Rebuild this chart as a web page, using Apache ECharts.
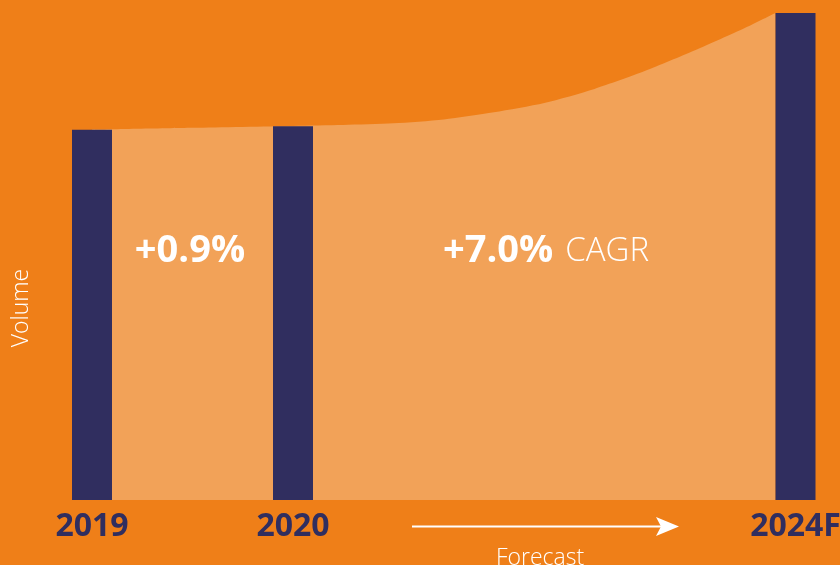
<!DOCTYPE html>
<html>
<head>
<meta charset="utf-8">
<script src="https://cdn.jsdelivr.net/npm/echarts@6/dist/echarts.min.js"></script>
<style>
html,body{margin:0;padding:0;background:#EF7F18;}
#c{width:840px;height:565px;}
</style>
</head>
<body>
<div id="c"></div>
<script>
// category slots along the x axis (blank slots are spacing in the original layout)
const categories = ['2019', '', '2020', '', '', '', '', '2024F'];
// bar values per slot (volume index, 2019 = 100)
const barValues = [100, null, 100.9, null, null, null, null, 131.5];
// growth curve (slot position, volume index)
const curveSlots = [0, 1, 2, 2.5, 3, 3.5, 4, 4.5, 5, 5.5, 6, 6.5, 6.8];
const curveValues = [100, 100.5, 101.0, 101.25, 101.7, 102.75, 104.7, 107.2, 111.0, 115.8, 121.4, 127.5, 131.5];
const growthLabel = '+0.9%';
const cagrLabel = '+7.0%';

const NAVY = '#302E5F';
const BG = '#EF7F18';
const LIGHT = '#F2A258';
const FONT = '"Open Sans", "DejaVu Sans", sans-serif';

const chart = echarts.init(document.getElementById('c'), null, {renderer: 'canvas'});
chart.setOption({
  backgroundColor: BG,
  animation: false,
  grid: {left: 92, right: 44.5, top: 0, bottom: 65, containLabel: false, outerBoundsMode: 'none'},
  xAxis: [
    {
      type: 'category', data: categories, boundaryGap: false,
      splitLine: {show: false}, axisLine: {show: false}, axisTick: {show: false},
      axisLabel: {show: true, interval: 0, margin: 11, color: NAVY, fontFamily: FONT, fontWeight: 'bold', fontSize: 32}
    },
    {
      type: 'value', min: 0, max: categories.length - 1, show: false, splitLine: {show: false}
    }
  ],
  yAxis: {type: 'value', min: 0, max: 135, show: false, splitLine: {show: false}},
  series: [
    {
      type: 'line', z: 1, xAxisIndex: 1,
      data: curveSlots.map((x, i) => [x, curveValues[i]]),
      smooth: 0.25, symbol: 'none',
      lineStyle: {width: 0, color: LIGHT},
      areaStyle: {color: LIGHT, opacity: 1}
    },
    {
      type: 'bar', z: 3, xAxisIndex: 0, barWidth: 40,
      data: barValues.map(v => v == null ? '-' : v),
      itemStyle: {color: NAVY}
    }
  ],
  graphic: [
    {type: 'text', z: 100, style: {text: growthLabel, x: 190, y: 251, align: 'center', verticalAlign: 'middle', fill: '#fff', fontFamily: FONT, fontWeight: 'bold', fontSize: 38}},
    {type: 'text', z: 100, style: {
      text: '{b|' + cagrLabel + '}{l|CAGR}', x: 546, y: 251, align: 'center', verticalAlign: 'middle',
      rich: {
        b: {fill: '#fff', fontFamily: FONT, fontWeight: 'bold', fontSize: 38},
        l: {fill: '#fff', fontFamily: FONT, fontWeight: 300, fontSize: 33, padding: [2, 0, 0, 12]}
      }
    }},
    {type: 'text', z: 100, x: 21, y: 308, rotation: Math.PI / 2, style: {text: 'Volume', x: 0, y: 0, align: 'center', verticalAlign: 'middle', fill: '#fff', fontFamily: FONT, fontWeight: 300, fontSize: 23}},
    {type: 'text', z: 100, style: {text: 'Forecast', x: 540, y: 558, align: 'center', verticalAlign: 'middle', fill: '#fff', fontFamily: FONT, fontWeight: 300, fontSize: 23}},
    {type: 'line', z: 100, shape: {x1: 412, y1: 526.5, x2: 668, y2: 526.5}, style: {stroke: '#fff', lineWidth: 2}},
    {type: 'polygon', z: 100, shape: {points: [[656, 517], [679, 526.5], [656, 536], [661, 526.5]]}, style: {fill: '#fff'}}
  ]
});
</script>
</body>
</html>
